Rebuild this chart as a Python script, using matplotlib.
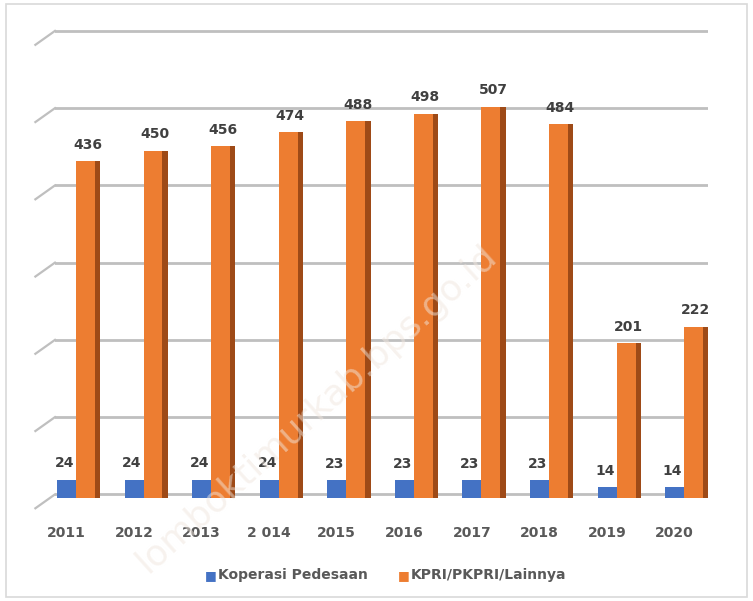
import numpy as np
import matplotlib.pyplot as plt
import matplotlib.transforms as mtransforms
from matplotlib.patches import Rectangle

years = ['2011', '2012', '2013', '2 014', '2015', '2016', '2017', '2018', '2019', '2020']
koperasi_pedesaan = [24, 24, 24, 24, 23, 23, 23, 23, 14, 14]
kpri_lainnya = [436, 450, 456, 474, 488, 498, 507, 484, 201, 222]

blue = '#4472C4'
orange = '#ED7D31'
orange_side = '#9E4A17'
blue_side = '#2F528F'
text_col = '#404040'

fig = plt.figure(figsize=(7.53, 6.01), dpi=100)
fig.patches.append(Rectangle((0.008, 0.006), 0.984, 0.988, transform=fig.transFigure,
                             fill=False, edgecolor='#d9d9d9', linewidth=1.2))
ax = fig.add_axes([0.073, 0.171, 0.867, 0.784])

x = np.arange(len(years))
# gridlines on the back wall (sit a few px higher than the bars' base)
trans = mtransforms.blended_transform_factory(ax.transAxes, ax.transData)
for g in range(0, 700, 100):
    ax.axhline(g + 5, color='#bfbfbf', lw=2.0, zorder=0)
    ax.plot([-0.03, 0.0], [g - 13, g + 5], transform=trans, color='#bfbfbf', lw=1.6,
            clip_on=False, zorder=0)

# blue bars: front face + dark side
ax.bar(x - 0.16, koperasi_pedesaan, width=0.30, color=blue, zorder=2)
ax.bar(x + 0.03, koperasi_pedesaan, width=0.08, color=blue_side, zorder=1)
# orange bars: front face + dark side
ax.bar(x + 0.11, kpri_lainnya, width=0.28, color=orange, zorder=3)
ax.bar(x + 0.29, kpri_lainnya, width=0.08, color=orange_side, zorder=3)

for i in range(len(years)):
    ax.text(x[i] - 0.2, koperasi_pedesaan[i] + 12, str(koperasi_pedesaan[i]),
            ha='center', va='bottom', fontsize=10, fontweight='bold', color=text_col)
    ax.text(x[i] + 0.14, kpri_lainnya[i] + 12, str(kpri_lainnya[i]),
            ha='center', va='bottom', fontsize=10, fontweight='bold', color=text_col)

ax.set_xlim(-0.34, 9.32)
ax.set_ylim(0, 610)
ax.set_xticks(x - 0.17)
ax.set_xticklabels(years, fontsize=10, fontweight='bold', color='#595959')
ax.tick_params(axis='x', length=0, pad=20)
ax.set_yticks([])
for s in ax.spines.values():
    s.set_visible(False)

# legend
fig.text(0.272, 0.043, '\u25A0', color=blue, fontsize=9, va='center', ha='left')
fig.text(0.289, 0.043, 'Koperasi Pedesaan', color='#595959', fontsize=10,
         fontweight='bold', va='center', ha='left')
fig.text(0.528, 0.043, '\u25A0', color=orange, fontsize=9, va='center', ha='left')
fig.text(0.545, 0.043, 'KPRI/PKPRI/Lainnya', color='#595959', fontsize=10,
         fontweight='bold', va='center', ha='left')

# watermark
fig.text(0.42, 0.32, 'lomboktimurkab.bps.go.id', rotation=42, fontsize=26,
         color='#f0e6de', alpha=0.5, ha='center', va='center', zorder=10)

fig.savefig('out.png', dpi=100)
